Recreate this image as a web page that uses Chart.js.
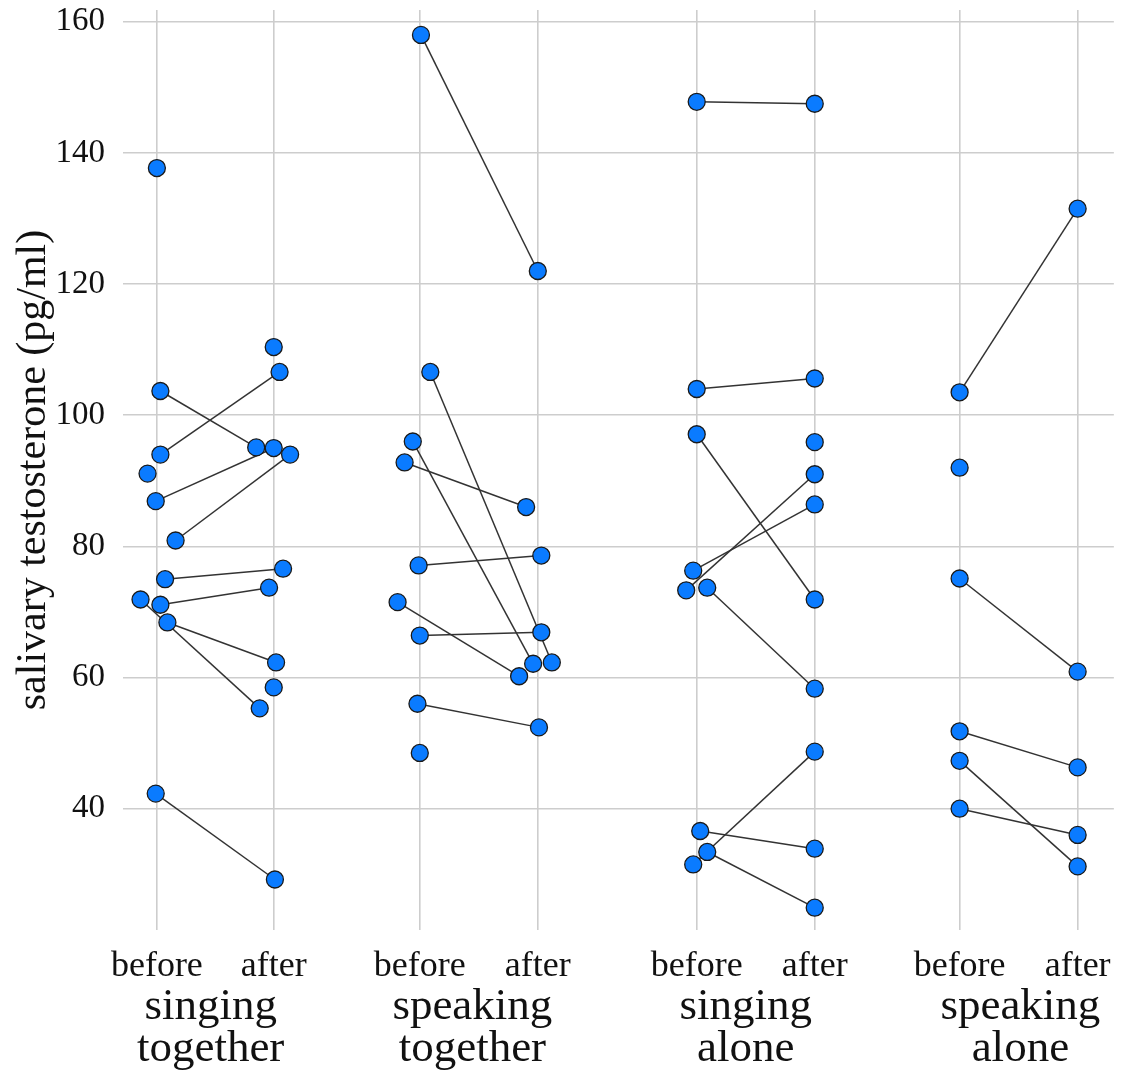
<!DOCTYPE html>
<html>
<head>
<meta charset="utf-8">
<script src="https://cdn.jsdelivr.net/npm/chart.js@4.4.1/dist/chart.umd.min.js"></script>
<style>
  html, body { margin: 0; padding: 0; background: #fff; }
  #wrap { width: 1126px; height: 1074px; position: relative; }
</style>
</head>
<body>
<div id="wrap"><canvas id="chart"></canvas></div>
<script>
// categories
const conditions = [['singing', 'together'], ['speaking', 'together'], ['singing', 'alone'], ['speaking', 'alone']];
const phases = ['before', 'after'];
const xPositions = [0, 1, 2.25, 3.26, 4.62, 5.63, 6.87, 7.88];
const groupCenters = [0.46, 2.70, 5.04, 7.39];
const yTicks = [40, 60, 80, 100, 120, 140, 160];

// singing together (null = no matching value)
const singTogetherBefore = [137.7, 103.7, 94.0, 91.1, 86.9, 80.9, 75.0, 71.9, 71.1, 68.4, 42.3, null, null];
const singTogetherAfter  = [null, 95.1, 106.6, null, 95.0, 94.0, 76.6, 55.3, 73.7, 62.3, 29.2, 110.4, 58.5];
const singTogetherJitB   = [0, 0.03, 0.03, -0.08, -0.01, 0.16, 0.07, -0.14, 0.03, 0.09, -0.01, 0, 0];
const singTogetherJitA   = [0, -0.15, 0.05, 0, 0, 0.14, 0.08, -0.12, -0.04, 0.02, 0.01, 0, 0];

// speaking together
const speakTogetherBefore = [158.0, 106.6, 96.0, 92.8, 77.1, 71.5, 66.4, 56.0, 48.5];
const speakTogetherAfter  = [122.0, 62.3, 62.1, 86.0, 78.6, 60.2, 66.9, 52.4, null];
const speakTogetherJitB   = [0.01, 0.09, -0.06, -0.13, -0.01, -0.19, 0, -0.02, 0];
const speakTogetherJitA   = [0, 0.12, -0.04, -0.10, 0.03, -0.16, 0.03, 0.01, 0];

// singing alone
const singAloneBefore = [147.8, 104.0, 97.1, 76.3, 73.3, 73.7, 36.6, 31.5, 33.4, null];
const singAloneAfter  = [147.5, 105.6, 71.9, 86.4, 91.0, 58.3, 33.9, 48.7, 24.9, 95.9];
const singAloneJitB   = [0, 0, 0, -0.03, -0.09, 0.09, 0.03, -0.03, 0.09, 0];
const singAloneJitA   = [0, 0, 0, 0, 0, 0, 0, 0, 0, 0];

// speaking alone
const speakAloneBefore = [103.5, 92.0, 75.1, 51.8, 47.3, 40.0];
const speakAloneAfter  = [131.5, null, 60.9, 46.3, 31.2, 36.0];
const speakAloneJitB   = [0, 0, 0, 0, 0, 0];
const speakAloneJitA   = [0, 0, 0, 0, 0, 0];

const groups = [
    [singTogetherBefore, singTogetherAfter, singTogetherJitB, singTogetherJitA],
    [speakTogetherBefore, speakTogetherAfter, speakTogetherJitB, speakTogetherJitA],
    [singAloneBefore, singAloneAfter, singAloneJitB, singAloneJitA],
    [speakAloneBefore, speakAloneAfter, speakAloneJitB, speakAloneJitA]
];

const FONT = '"Liberation Serif", "Times New Roman", serif';

// build points and connecting lines
const points = [];
const lineSets = [];
groups.forEach((g, gi) => {
    const [before, after, jb, ja] = g;
    const xb = xPositions[gi * 2];
    const xa = xPositions[gi * 2 + 1];
    before.forEach((b, i) => {
        const a = after[i];
        const pb = b !== null ? { x: xb + jb[i], y: b } : null;
        const pa = a !== null ? { x: xa + ja[i], y: a } : null;
        if (pb) points.push(pb);
        if (pa) points.push(pa);
        if (pb && pa) {
            lineSets.push({
                data: [pb, pa],
                showLine: true,
                borderColor: '#333',
                borderWidth: 1.5,
                pointRadius: 0,
                order: 1
            });
        }
    });
});

const datasets = [{
    data: points,
    pointRadius: 8.5,
    pointBackgroundColor: '#0a7bff',
    pointBorderColor: '#1a1a1a',
    pointBorderWidth: 1.3,
    showLine: false,
    order: 0
}].concat(lineSets);

new Chart(document.getElementById('chart'), {
    type: 'scatter',
    data: { datasets: datasets },
    options: {
        responsive: true,
        maintainAspectRatio: false,
        animation: false,
        layout: { autoPadding: false, padding: { left: 0, right: 11, top: 10, bottom: 0 } },
        plugins: { legend: { display: false }, tooltip: { enabled: false } },
        scales: {
            x: {
                type: 'linear',
                position: 'bottom',
                min: -0.29,
                max: 8.19,
                afterBuildTicks: scale => { scale.ticks = xPositions.map(v => ({ value: v })); },
                afterFit: scale => { scale.height = 47; },
                ticks: {
                    autoSkip: false,
                    maxRotation: 0,
                    padding: 15,
                    color: '#111',
                    font: { family: FONT, size: 36 },
                    callback: (value, index) => phases[index % 2]
                },
                grid: { color: '#cdcdcd', lineWidth: 1.6, drawTicks: false },
                border: { display: false }
            },
            x2: {
                type: 'linear',
                position: 'bottom',
                min: -0.29,
                max: 8.19,
                afterBuildTicks: scale => { scale.ticks = groupCenters.map(v => ({ value: v })); },
                afterFit: scale => { scale.height = 97; },
                ticks: {
                    autoSkip: false,
                    maxRotation: 0,
                    padding: 9,
                    color: '#111',
                    font: { family: FONT, size: 45, lineHeight: 0.933 },
                    callback: (value, index) => conditions[index]
                },
                grid: { display: false, drawTicks: false },
                border: { display: false }
            },
            y: {
                type: 'linear',
                min: 21.5,
                max: 161.8,
                afterBuildTicks: scale => { scale.ticks = yTicks.map(v => ({ value: v })); },
                afterFit: scale => {
                    scale.width = 123;
                    scale.paddingTop = 0;
                    scale.paddingBottom = 0;
                },
                ticks: {
                    padding: 18,
                    color: '#111',
                    font: { family: FONT, size: 33 },
                    callback: value => value
                },
                grid: { color: '#cdcdcd', lineWidth: 1.6, drawTicks: false },
                border: { display: false },
                title: {
                    display: true,
                    text: 'salivary testosterone (pg/ml)',
                    color: '#111',
                    font: { family: FONT, size: 42 },
                    padding: { top: 9, bottom: 0 }
                }
            }
        }
    }
});
</script>
</body>
</html>
